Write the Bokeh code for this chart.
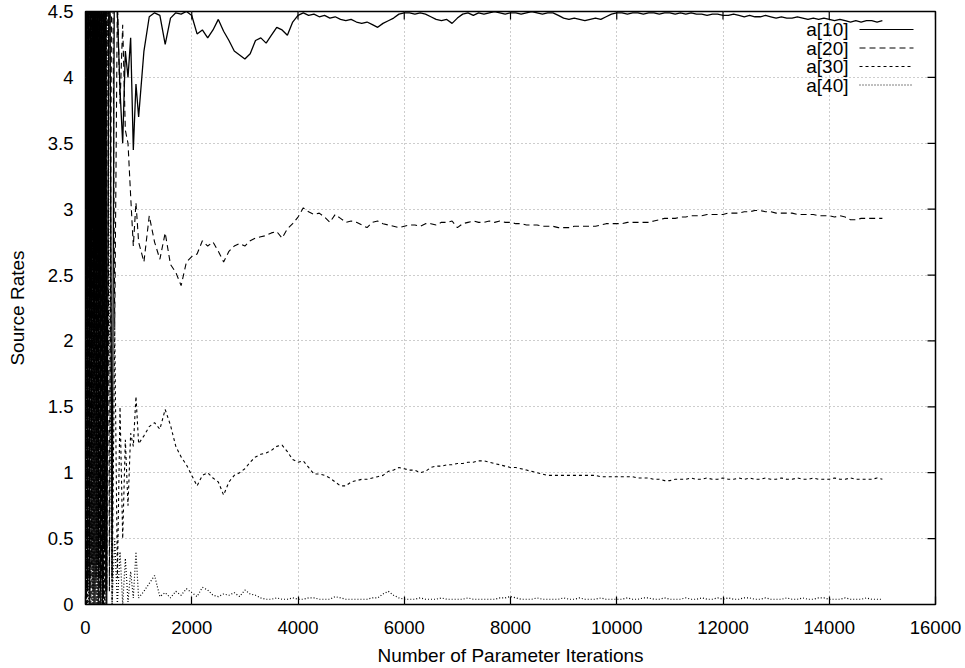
import math
from bokeh.plotting import figure
from bokeh.models import Range1d, FixedTicker, Label, Arrow, CustomJSTickFormatter
from bokeh.embed import file_html
from bokeh.resources import INLINE

# ---- sampling grid (parameter iterations) ----
ITER_EARLY = list(range(0, 401, 20))          # 21 points
ITER_MID = list(range(450, 1001, 50))         # 12 points
ITER_MAIN = list(range(1100, 15001, 100))     # 140 points
ITERS = ITER_EARLY + ITER_MID + ITER_MAIN

X_TICKS = [0, 2000, 4000, 6000, 8000, 10000, 12000, 14000, 16000]
Y_TICKS = [0, 0.5, 1, 1.5, 2, 2.5, 3, 3.5, 4, 4.5]
SERIES_NAMES = ["a[10]", "a[20]", "a[30]", "a[40]"]

# ---- a[10] ----
a10_early = [0.0, 6.5, 0.1, 7.0, 0.0, 6.0, 0.3, 7.5, 0.0, 6.8, 0.2, 7.2, 0.0, 6.5, 0.1, 7.0, 0.0, 6.2, 0.4, 6.9, 0.0]
a10_mid = [6.0, 0.2, 5.5, 4.5, 3.9, 3.5, 4.2, 4.0, 4.3, 3.45, 3.95, 3.7]
a10_main = [
    4.2, 4.46, 4.49, 4.47, 4.25, 4.45, 4.49, 4.48, 4.5, 4.47,
    4.33, 4.36, 4.3, 4.36, 4.44, 4.35, 4.28, 4.2, 4.17, 4.14,
    4.18, 4.28, 4.3, 4.26, 4.32, 4.38, 4.36, 4.32, 4.42, 4.47,
    4.49, 4.47, 4.48, 4.46, 4.47, 4.45, 4.46, 4.44, 4.43, 4.44,
    4.42, 4.41, 4.42, 4.4, 4.38, 4.41, 4.43, 4.45, 4.48, 4.49,
    4.49, 4.48, 4.49, 4.48, 4.46, 4.44, 4.43, 4.44, 4.41, 4.45,
    4.48, 4.49, 4.47, 4.49, 4.48, 4.49, 4.5, 4.49, 4.48, 4.49,
    4.49, 4.48, 4.49, 4.5, 4.49, 4.48, 4.49, 4.49, 4.47, 4.45,
    4.44, 4.45, 4.44, 4.43, 4.44, 4.45, 4.44, 4.46, 4.48, 4.49,
    4.49, 4.48, 4.49, 4.49, 4.48, 4.49, 4.49, 4.48, 4.49, 4.49,
    4.48, 4.49, 4.48, 4.49, 4.48, 4.48, 4.47, 4.48, 4.48, 4.47,
    4.47, 4.48, 4.47, 4.46, 4.47, 4.46, 4.46, 4.47, 4.46, 4.45,
    4.46, 4.45, 4.45, 4.46, 4.45, 4.44, 4.45, 4.44, 4.45, 4.44,
    4.43, 4.44, 4.43, 4.42, 4.43, 4.42, 4.43, 4.43, 4.42, 4.43,
]

# ---- a[20] ----
a20_early = [5.8, 0.0, 6.6, 0.2, 7.1, 0.0, 6.3, 0.1, 6.9, 0.0, 7.4, 0.3, 6.1, 0.0, 6.7, 0.2, 7.0, 0.0, 6.4, 0.1, 6.8]
a20_mid = [0.1, 5.8, 2.1, 4.6, 3.8, 4.4, 3.6, 3.5, 3.1, 2.72, 3.05, 2.75]
a20_main = [
    2.6, 2.95, 2.75, 2.62, 2.82, 2.58, 2.52, 2.42, 2.6, 2.64,
    2.66, 2.76, 2.72, 2.75, 2.68, 2.6, 2.68, 2.72, 2.74, 2.72,
    2.76, 2.78, 2.79, 2.8, 2.82, 2.83, 2.78, 2.85, 2.89, 2.94,
    3.01, 2.98, 2.96, 2.97, 2.94, 2.9, 2.96, 2.93, 2.9, 2.91,
    2.9, 2.88, 2.86, 2.9, 2.91, 2.89, 2.88, 2.87, 2.86, 2.87,
    2.88, 2.88, 2.87, 2.89, 2.89, 2.88, 2.9, 2.9, 2.91, 2.86,
    2.89, 2.9, 2.91, 2.9, 2.9, 2.91, 2.9, 2.91, 2.9, 2.9,
    2.89, 2.89, 2.88, 2.88, 2.88, 2.87, 2.87, 2.87, 2.86, 2.86,
    2.86, 2.87, 2.87, 2.87, 2.87, 2.87, 2.88, 2.89, 2.89, 2.89,
    2.89, 2.9, 2.9, 2.9, 2.9, 2.9, 2.91, 2.92, 2.93, 2.93,
    2.93, 2.94, 2.94, 2.95, 2.95, 2.95, 2.96, 2.96, 2.96, 2.96,
    2.97, 2.97, 2.97, 2.98, 2.98, 2.99, 2.99, 2.98, 2.98, 2.97,
    2.97, 2.97, 2.97, 2.96, 2.96, 2.96, 2.96, 2.95, 2.95, 2.95,
    2.94, 2.95, 2.94, 2.92, 2.92, 2.93, 2.93, 2.93, 2.93, 2.93,
]

# ---- a[30] ----
a30_early = [0.2, 6.9, 0.0, 6.2, 0.1, 7.3, 0.0, 6.5, 0.3, 7.0, 0.0, 6.6, 0.2, 7.2, 0.0, 6.4, 0.1, 6.9, 0.0, 6.3, 0.1]
a30_mid = [5.5, 0.0, 2.1, 0.2, 1.5, 0.5, 1.25, 0.75, 1.3, 1.2, 1.58, 1.22]
a30_main = [
    1.28, 1.35, 1.38, 1.33, 1.48, 1.36, 1.2, 1.12, 1.06, 0.98,
    0.9, 0.98, 1.0, 0.96, 0.93, 0.83, 0.93, 0.98, 1.0, 1.03,
    1.08, 1.12, 1.14, 1.15, 1.17, 1.2, 1.21, 1.16, 1.1, 1.08,
    1.09, 1.04, 0.99, 0.99, 0.98, 0.96, 0.93, 0.9, 0.9, 0.93,
    0.94, 0.95, 0.95, 0.96, 0.97, 0.98, 1.01, 1.02, 1.04, 1.03,
    1.02, 1.02, 1.0, 1.01, 1.04, 1.05, 1.05, 1.06, 1.06, 1.07,
    1.07, 1.08, 1.08, 1.09, 1.09, 1.08, 1.07, 1.06, 1.05, 1.04,
    1.04, 1.03, 1.02, 1.01, 1.0, 0.99, 0.98, 0.98, 0.98, 0.98,
    0.98, 0.98, 0.98, 0.98, 0.98, 0.98, 0.97, 0.97, 0.97, 0.97,
    0.97, 0.97, 0.97, 0.96, 0.96, 0.96, 0.95, 0.95, 0.94, 0.94,
    0.95, 0.95, 0.95, 0.96, 0.95, 0.95, 0.96, 0.95, 0.95, 0.96,
    0.95, 0.95, 0.96, 0.95, 0.96, 0.95, 0.95, 0.96, 0.95, 0.95,
    0.96, 0.95, 0.95, 0.96, 0.95, 0.95, 0.96, 0.95, 0.95, 0.95,
    0.96, 0.95, 0.95, 0.96, 0.95, 0.95, 0.95, 0.95, 0.96, 0.95,
]

# ---- a[40] ----
a40_early = [6.4, 0.1, 7.0, 0.0, 6.2, 0.2, 6.8, 0.0, 7.1, 0.1, 6.5, 0.0, 6.9, 0.2, 6.3, 0.0, 7.0, 0.1, 6.6, 0.0, 5.9]
a40_mid = [2.2, 0.0, 0.5, 0.0, 0.4, 0.0, 0.35, 0.02, 0.25, 0.05, 0.4, 0.05]
a40_main = [
    0.1, 0.16, 0.22, 0.06, 0.09, 0.05, 0.1, 0.07, 0.12, 0.09,
    0.06, 0.13, 0.11, 0.07, 0.06, 0.08, 0.07, 0.09, 0.06, 0.11,
    0.08, 0.07, 0.05, 0.04, 0.04, 0.05, 0.04, 0.04, 0.05, 0.04,
    0.04, 0.05, 0.05, 0.04, 0.04, 0.04, 0.06, 0.05, 0.04, 0.04,
    0.04, 0.04, 0.04, 0.05, 0.05, 0.08, 0.1, 0.07, 0.05, 0.04,
    0.04, 0.04, 0.05, 0.04, 0.04, 0.04, 0.05, 0.04, 0.04, 0.04,
    0.04, 0.05, 0.04, 0.04, 0.04, 0.04, 0.04, 0.05, 0.05, 0.06,
    0.05, 0.04, 0.04, 0.04, 0.05, 0.04, 0.04, 0.04, 0.04, 0.05,
    0.04, 0.04, 0.05, 0.04, 0.04, 0.04, 0.05, 0.04, 0.04, 0.04,
    0.04, 0.05, 0.04, 0.04, 0.05, 0.05, 0.04, 0.04, 0.05, 0.04,
    0.04, 0.04, 0.05, 0.04, 0.04, 0.05, 0.04, 0.04, 0.05, 0.04,
    0.05, 0.04, 0.04, 0.05, 0.05, 0.04, 0.04, 0.05, 0.04, 0.04,
    0.04, 0.05, 0.04, 0.04, 0.05, 0.04, 0.04, 0.05, 0.05, 0.04,
    0.04, 0.04, 0.05, 0.04, 0.04, 0.04, 0.05, 0.04, 0.04, 0.04,
]

SERIES = [
    a10_early + a10_mid + a10_main,
    a20_early + a20_mid + a20_main,
    a30_early + a30_mid + a30_main,
    a40_early + a40_mid + a40_main,
]
DASHES = ["solid", "6 4", "3 3", "1 2"]
WIDTHS = [1.3, 1.1, 1.1, 1.2]

FONT = "Liberation Sans"
X_MIN, X_MAX = 0, 16000
Y_MIN, Y_MAX = 0, 4.5

p = figure(width=965, height=668, output_backend="svg", toolbar_location=None,
           x_range=Range1d(X_MIN, X_MAX), y_range=Range1d(Y_MIN, Y_MAX),
           min_border_left=85, min_border_right=30, min_border_top=11, min_border_bottom=63)
p.background_fill_color = "white"
p.border_fill_color = "white"
p.outline_line_color = "black"
p.outline_line_width = 1.5

p.xgrid.grid_line_color = "#9a9a9a"
p.ygrid.grid_line_color = "#9a9a9a"
p.xgrid.grid_line_dash = "1 3"
p.ygrid.grid_line_dash = "1 3"
p.xgrid.grid_line_width = 1
p.ygrid.grid_line_width = 1

for ys, dash, w in zip(SERIES, DASHES, WIDTHS):
    p.line(ITERS, ys, line_color="black", line_width=w, line_dash=dash)

for ax in (p.xaxis, p.yaxis):
    ax.axis_line_color = None
    ax.major_tick_in = 8
    ax.major_tick_out = 0
    ax.minor_tick_line_color = None
    ax.major_tick_line_color = "black"
    ax.major_tick_line_width = 1.2
    ax.major_label_text_font = FONT
    ax.major_label_text_font_size = "18.5px"
    ax.major_label_text_color = "black"
    ax.axis_label_text_font = FONT
    ax.axis_label_text_font_size = "19px"
    ax.axis_label_text_font_style = "normal"
    ax.axis_label_text_color = "black"

p.xaxis.ticker = FixedTicker(ticks=X_TICKS)
p.yaxis.ticker = FixedTicker(ticks=Y_TICKS)
p.yaxis.formatter = CustomJSTickFormatter(code="return tick.toString();")
p.xaxis.axis_label = "Number of Parameter Iterations"
p.yaxis.axis_label = "Source Rates"
p.xaxis.major_label_standoff = 16
p.xaxis.axis_label_standoff = 8
p.yaxis.major_label_standoff = 12
p.yaxis.axis_label_standoff = 17

# mirrored inward ticks on the top and right borders (gnuplot style), as clipped dash markers
p.scatter(X_TICKS, [Y_MAX] * len(X_TICKS), marker="dash", size=16, angle=math.pi / 2,
          line_color="black", line_width=1.2)
p.scatter([X_MAX] * len(Y_TICKS), Y_TICKS, marker="dash", size=16,
          line_color="black", line_width=1.2)

# gnuplot-style key: text on the left, line sample on the right
for i, (name, dash) in enumerate(zip(SERIES_NAMES, DASHES)):
    yy = 575 - i * 18.5
    p.add_layout(Label(x=763, y=yy, x_units="screen", y_units="screen", text=name,
                       text_align="right", text_baseline="middle",
                       text_font=FONT, text_font_size="19px", text_color="black"))
    p.add_layout(Arrow(end=None, x_start=774, y_start=yy, x_end=828, y_end=yy,
                       start_units="screen", end_units="screen",
                       line_color="black", line_width=1, line_dash=dash))

open("out.html", "w").write(file_html(p, INLINE))
